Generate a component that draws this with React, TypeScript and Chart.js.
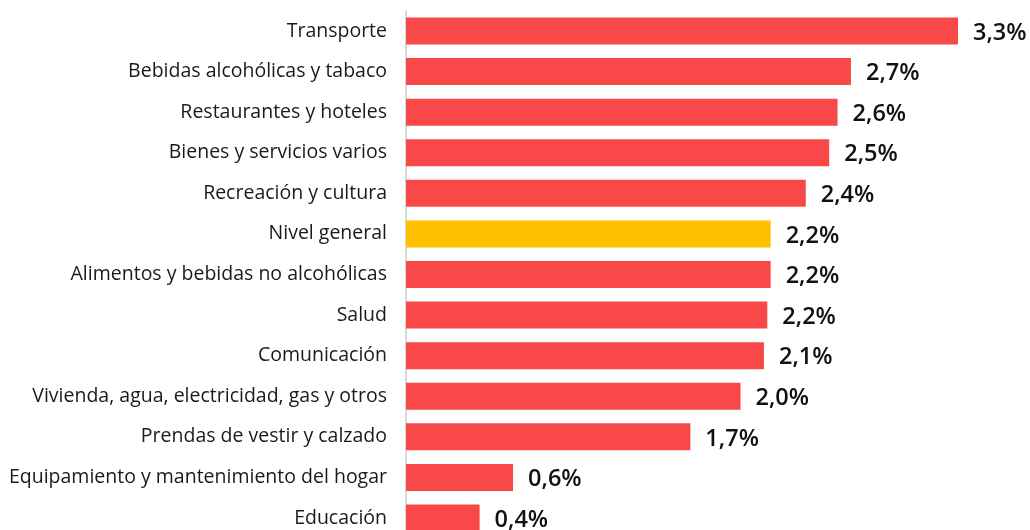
import React, { useEffect, useRef } from "react";
import { Chart, registerables } from "chart.js";
Chart.register(...registerables);

const categories = [
  "Transporte",
  "Bebidas alcohólicas y tabaco",
  "Restaurantes y hoteles",
  "Bienes y servicios varios",
  "Recreación y cultura",
  "Nivel general",
  "Alimentos y bebidas no alcohólicas",
  "Salud",
  "Comunicación",
  "Vivienda, agua, electricidad, gas y otros",
  "Prendas de vestir y calzado",
  "Equipamiento y mantenimiento del hogar",
  "Educación",
];
const values = [3.3, 2.66, 2.58, 2.53, 2.39, 2.18, 2.18, 2.16, 2.14, 2.0, 1.7, 0.64, 0.44];
const valueLabels = ["3,3%", "2,7%", "2,6%", "2,5%", "2,4%", "2,2%", "2,2%", "2,2%", "2,1%", "2,0%", "1,7%", "0,6%", "0,4%"];
const highlight = "Nivel general";

const RED = "#F94848";
const YELLOW = "#FFC000";

const valueLabelPlugin = {
  id: "valueLabels",
  afterDatasetsDraw(chart: any) {
    const ctx = chart.ctx;
    const meta = chart.getDatasetMeta(0);
    ctx.save();
    ctx.font = "600 23.5px 'Open Sans', sans-serif";
    ctx.fillStyle = "#111";
    ctx.textAlign = "left";
    ctx.textBaseline = "middle";
    meta.data.forEach((el: any, i: number) => {
      ctx.fillText(valueLabels[i], el.x + 15, el.y + 2);
    });
    ctx.restore();
  },
};

export default function App() {
  const ref = useRef<HTMLCanvasElement>(null);
  useEffect(() => {
    if (!ref.current) return;
    const chart = new Chart(ref.current, {
      type: "bar",
      data: {
        labels: categories,
        datasets: [
          {
            data: values,
            backgroundColor: categories.map((c) => (c === highlight ? YELLOW : RED)),
            borderWidth: 0,
            barPercentage: 0.667,
            categoryPercentage: 1,
          },
        ],
      },
      options: {
        indexAxis: "y",
        animation: false,
        responsive: false,
        maintainAspectRatio: false,
        layout: { padding: { top: 0, bottom: 0, right: 72, left: 0 } },
        plugins: { legend: { display: false }, tooltip: { enabled: false } },
        scales: {
          x: { display: false, min: 0, max: 3.3 },
          y: {
            afterFit: (scale: any) => {
              scale.width = 406;
            },
            grid: { display: false },
            border: { display: true, color: "#D9D9D9", width: 2 },
            ticks: {
              color: "#1a1a1a",
              padding: 11,
              font: { family: "'Open Sans', sans-serif", size: 19.5 },
            },
          },
        },
      },
      plugins: [valueLabelPlugin],
    });
    return () => chart.destroy();
  }, []);
  return (
    <div style={{ position: "absolute", left: 0, top: 0, width: 1030, height: 530, overflow: "hidden", background: "#fff" }}>
      <canvas ref={ref} width={1030} height={573} style={{ display: "block", position: "absolute", left: 0, top: -12 }} />
    </div>
  );
}
